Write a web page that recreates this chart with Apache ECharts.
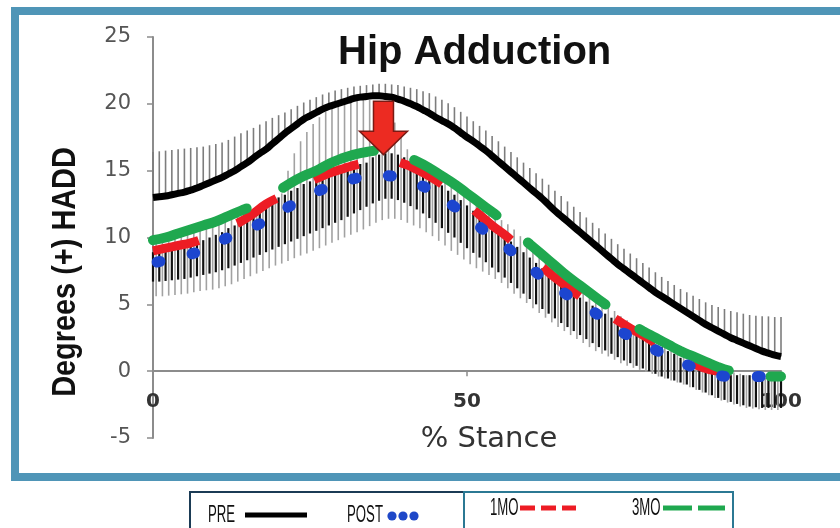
<!DOCTYPE html>
<html>
<head>
<meta charset="utf-8">
<script src="https://cdn.jsdelivr.net/npm/echarts@6/dist/echarts.min.js"></script>
<style>
html,body{margin:0;padding:0;background:#fff;}
#chart{width:840px;height:528px;}
</style>
</head>
<body>
<div id="chart"></div>
<script>
// ---- axis ticks ----
const xTicks = [0, 50, 100];
const yTicks = [-5, 0, 5, 10, 15, 20, 25];

// ---- PRE (1% steps, 0..100) ----
const preMean = [13.0,13.05,13.1,13.2,13.3,13.4,13.55,13.7,13.9,14.1,14.3,14.5,14.75,15.0,15.3,15.6,15.95,16.3,16.6,17.0,17.4,17.8,18.15,18.5,18.85,19.1,19.35,19.6,19.8,19.95,20.1,20.25,20.4,20.5,20.55,20.6,20.6,20.55,20.5,20.35,20.2,20.0,19.8,19.55,19.3,19.0,18.75,18.5,18.2,17.85,17.5,17.2,16.85,16.5,16.1,15.7,15.3,14.9,14.5,14.1,13.7,13.3,12.9,12.45,12.0,11.6,11.2,10.8,10.4,10.0,9.6,9.2,8.8,8.4,8.0,7.65,7.3,6.95,6.6,6.25,5.9,5.6,5.3,5.0,4.7,4.4,4.1,3.8,3.5,3.25,3.0,2.75,2.5,2.3,2.1,1.9,1.7,1.5,1.35,1.2,1.1];
const preHi = [16.4,16.45,16.5,16.55,16.6,16.65,16.7,16.75,16.8,16.9,17.0,17.1,17.3,17.55,17.8,18.0,18.2,18.45,18.7,18.95,19.15,19.35,19.6,19.85,20.1,20.3,20.5,20.7,20.85,21.0,21.1,21.2,21.3,21.35,21.4,21.45,21.5,21.5,21.45,21.4,21.3,21.2,21.1,20.95,20.8,20.55,20.3,20.05,19.75,19.4,19.05,18.7,18.35,18.0,17.6,17.2,16.8,16.4,16.0,15.6,15.2,14.8,14.4,13.95,13.5,13.1,12.7,12.3,11.9,11.5,11.1,10.7,10.3,9.9,9.5,9.15,8.8,8.45,8.1,7.75,7.4,7.05,6.75,6.45,6.15,5.9,5.65,5.4,5.15,4.95,4.8,4.65,4.5,4.4,4.3,4.2,4.15,4.1,4.1,4.05,4.05];

// ---- lower error bars (1% steps, 0..100) ----
const blackHi = [8.9,9.0,9.1,9.2,9.3,9.4,9.5,9.6,9.8,10.0,10.2,10.4,10.7,10.9,11.1,11.4,11.7,12.0,12.4,12.7,13.0,13.2,13.5,13.7,14.0,14.2,14.4,14.6,14.8,15.0,15.1,15.3,15.4,15.5,15.6,16.0,16.2,16.3,16.3,16.2,16.0,15.3,15.0,14.8,14.5,14.2,13.9,13.5,13.2,12.8,12.4,12.0,11.6,11.2,10.8,10.5,10.1,9.7,9.3,8.9,8.5,8.1,7.7,7.3,6.9,6.6,6.2,5.9,5.5,5.2,4.9,4.6,4.3,4.0,3.7,3.4,3.1,2.8,2.6,2.3,2.0,1.8,1.5,1.3,1.0,0.8,0.5,0.3,0.1,0.0,-0.1,-0.2,-0.3,-0.3,-0.3,-0.3,-0.3,-0.3,-0.3,-0.3,-0.3];
const blackLo = [6.7,6.7,6.75,6.8,6.85,6.9,7.0,7.1,7.2,7.3,7.4,7.55,7.7,7.9,8.1,8.3,8.5,8.7,8.9,9.1,9.3,9.5,9.7,9.9,10.1,10.3,10.5,10.7,10.9,11.1,11.3,11.55,11.8,12.05,12.3,12.55,12.75,12.9,12.9,12.8,12.6,12.35,12.1,11.8,11.45,11.1,10.7,10.35,10.0,9.6,9.2,8.85,8.5,8.15,7.75,7.4,7.0,6.6,6.2,5.8,5.4,5.0,4.65,4.3,3.95,3.6,3.3,3.0,2.7,2.4,2.1,1.8,1.55,1.3,1.05,0.8,0.6,0.4,0.2,0.0,-0.2,-0.4,-0.55,-0.7,-0.85,-1.0,-1.2,-1.4,-1.6,-1.8,-2.0,-2.15,-2.3,-2.45,-2.55,-2.65,-2.7,-2.75,-2.75,-2.75,-2.75];
const grayHi = [9.6,9.7,9.8,9.9,10.1,10.2,10.4,10.5,10.7,10.8,11.0,11.2,11.4,11.6,11.8,12.0,12.2,12.4,12.7,13.0,13.3,15.0,16.3,17.2,17.9,18.5,19.0,19.4,19.7,19.9,20.1,20.2,20.3,20.3,20.3,20.2,20.0,19.5,18.6,17.6,16.6,15.9,15.5,15.2,15.0,14.7,14.4,14.1,13.8,13.4,13.1,12.7,12.4,12.0,11.7,11.3,11.0,10.6,10.1,9.7,9.3,8.9,8.5,8.1,7.7,7.3,6.9,6.6,6.2,5.9,5.5,5.2,4.8,4.5,4.1,3.8,3.4,3.1,2.8,2.5,2.3,2.0,1.8,1.5,1.3,1.1,0.9,0.7,0.5,0.3,0.1,0.0,-0.1,-0.2,-0.3,-0.4,-0.5,-0.5,-0.5,-0.5,-0.5];
const grayLo = [5.6,5.6,5.65,5.7,5.75,5.8,5.9,6.0,6.05,6.1,6.2,6.35,6.5,6.7,6.9,7.1,7.3,7.5,7.7,7.9,8.05,8.25,8.45,8.65,8.8,9.0,9.2,9.4,9.6,9.8,10.0,10.2,10.4,10.6,10.85,11.1,11.3,11.4,11.4,11.3,11.1,10.9,10.7,10.4,10.1,9.75,9.4,9.0,8.7,8.35,8.0,7.7,7.45,7.2,6.9,6.6,6.2,5.8,5.45,5.1,4.7,4.35,4.0,3.65,3.3,3.0,2.7,2.4,2.1,1.8,1.5,1.3,1.1,0.85,0.6,0.4,0.25,0.1,-0.05,-0.2,-0.4,-0.55,-0.7,-0.85,-1.0,-1.2,-1.4,-1.6,-1.8,-2.0,-2.2,-2.35,-2.5,-2.65,-2.75,-2.8,-2.85,-2.9,-2.9,-2.9,-2.9];

// ---- POST / 1MO / 3MO means (2% steps from 0) ----
const postMean = [8.1,8.3,8.5,8.75,9.1,9.6,10.0,10.4,10.8,11.3,11.9,12.4,12.9,13.4,13.8,14.2,14.4,14.6,14.65,14.6,14.3,14.0,13.6,13.0,12.3,11.6,10.8,10.1,9.4,8.6,7.8,7.0,6.3,5.7,5.1,4.5,3.8,3.1,2.6,2.1,1.6,1.1,0.7,0.3,0.0,-0.3,-0.4,-0.4,-0.4,-0.4];
const mo1Mean = [9.0,9.2,9.4,9.6,9.9,10.3,10.8,11.2,11.8,12.5,13.0,13.5,14.0,14.4,14.8,15.1,15.4,15.6,15.7,15.7,15.5,15.1,14.6,14.0,13.3,12.5,11.7,10.9,10.2,9.4,8.6,7.8,7.0,6.3,5.6,5.0,4.4,3.8,3.2,2.7,2.1,1.6,1.1,0.6,0.2,0.0,-0.2];
const mo3Mean = [9.8,10.0,10.3,10.6,10.9,11.2,11.6,12.0,12.4,12.9,13.5,14.1,14.6,15.0,15.5,15.9,16.2,16.4,16.5,16.4,16.1,15.7,15.2,14.6,14.0,13.3,12.6,11.9,11.2,10.3,9.5,8.7,7.9,7.1,6.4,5.7,5.0,4.3,3.6,3.0,2.5,2.0,1.5,1.1,0.7,0.3,0.0,-0.2,-0.4,-0.4,-0.4];

// ---- arrow marker (data units) ----
const arrowX = 36.7, arrowTop = 20.2, arrowBase = 17.95, arrowTip = 16.2;

const stance1 = preMean.map((_, i) => i);
const pts = (arr, step) => arr.map((v, i) => [i * step, v]);

function barSeries(name, lo, hi, color, width, offset, z) {
  return {
    type: 'custom', name: name, z: z, silent: true,
    data: lo.map((v, i) => [stance1[i], v, hi[i]]),
    renderItem: function (params, api) {
      const x = api.value(0) + offset;
      if (x > 100) return null;
      const p1 = api.coord([x, api.value(1)]);
      const p2 = api.coord([x, api.value(2)]);
      return { type: 'line', shape: { x1: p1[0], y1: p1[1], x2: p2[0], y2: p2[1] },
               style: { stroke: color, lineWidth: width } };
    }
  };
}

const chart = echarts.init(document.getElementById('chart'), null, { renderer: 'canvas' });
const option = {
  backgroundColor: '#ffffff',
  animation: false,
  title: {
    text: 'Hip Adduction', left: 333, top: 28,
    textStyle: { fontFamily: 'Liberation Sans', fontWeight: 'bold', fontSize: 40, color: '#111' }
  },
  grid: { left: 153, right: 59, top: 37, bottom: 90, containLabel: false },
  xAxis: {
    type: 'value', min: 0, max: 100, interval: 50,
    axisLine: { onZero: true, lineStyle: { color: '#8c8c8c', width: 2 } },
    axisTick: { show: true, length: 5, lineStyle: { color: '#8c8c8c', width: 1.5 } },
    splitLine: { show: false },
    axisLabel: { margin: -46, fontFamily: 'DejaVu Sans', fontWeight: 'bold', fontSize: 20, color: '#333' },
    name: '% Stance', nameLocation: 'middle', nameGap: -13,
    nameTextStyle: { fontFamily: 'DejaVu Sans', fontSize: 29, color: '#333', padding: [0, 0, 0, 44] }
  },
  yAxis: {
    type: 'value', min: -5, max: 25, interval: 5,
    axisLine: { show: true, lineStyle: { color: '#8c8c8c', width: 2 } },
    axisTick: { show: true, length: 6, lineStyle: { color: '#8c8c8c', width: 1.5 } },
    splitLine: { show: false },
    axisLabel: { margin: 22, fontFamily: 'DejaVu Sans', fontSize: 21, color: '#555' }
  },
  series: [
    barSeries('preSD', preMean, preHi, '#7d7d7d', 1.6, 0, 1),
    barSeries('graySD', grayLo, grayHi, '#a2a2a2', 1.6, 0.5, 1),
    barSeries('postSD', blackLo, blackHi, '#111111', 2.2, 0, 1),
    { type: 'line', name: 'PRE', data: pts(preMean, 1), showSymbol: false, smooth: true, z: 3,
      lineStyle: { color: '#000', width: 7 } },
    { type: 'line', name: '1MO', data: pts(mo1Mean, 2), showSymbol: false, smooth: true, z: 4,
      lineStyle: { color: '#ed1c24', width: 9, type: [47, 42], cap: 'butt' } },
    { type: 'line', name: '3MO', data: pts(mo3Mean, 2), showSymbol: false, smooth: true, z: 5,
      lineStyle: { color: '#1fa84f', width: 10, type: [99, 42], cap: 'round' } },
    { type: 'line', name: 'POST', data: pts(postMean, 2), showSymbol: false, smooth: true, z: 6,
      lineStyle: { color: '#1c45cf', width: 11, type: [3, 32.7], dashOffset: 31.5, cap: 'round' } }
  ]
};
chart.setOption(option);

// arrow via the chart's own scales
const pTop = chart.convertToPixel({ gridIndex: 0 }, [arrowX, arrowTop]);
const pBase = chart.convertToPixel({ gridIndex: 0 }, [arrowX, arrowBase]);
const pTip = chart.convertToPixel({ gridIndex: 0 }, [arrowX, arrowTip]);
const cx = pTop[0], sw = 10, hw = 24;

chart.setOption({
  graphic: [
    { type: 'rect', shape: { x: 15, y: 11, width: 830, height: 466 }, z: 100,
      style: { fill: 'none', stroke: '#4f95b7', lineWidth: 8 } },
    { type: 'polygon', z: 50,
      shape: { points: [[cx - sw, pTop[1]], [cx + sw, pTop[1]], [cx + sw, pBase[1]], [cx + hw, pBase[1]],
                        [cx, pTip[1]], [cx - hw, pBase[1]], [cx - sw, pBase[1]]] },
      style: { fill: '#ec2b22', stroke: '#7a1a14', lineWidth: 1.5 } },
    { type: 'text', x: 66, y: 272, rotation: Math.PI / 2, scaleX: 0.85, z: 60,
      style: { text: 'Degrees (+) HADD', font: 'bold 34px "Liberation Sans"', fill: '#111',
               textAlign: 'center', textVerticalAlign: 'middle' } },
    // legend box
    { type: 'rect', shape: { x: 190, y: 492, width: 274, height: 50 }, z: 60,
      style: { fill: '#fff', stroke: '#1b3b55', lineWidth: 2 } },
    { type: 'rect', shape: { x: 464, y: 492, width: 269, height: 50 }, z: 60,
      style: { fill: '#fff', stroke: '#2b7893', lineWidth: 2 } },
    { type: 'text', x: 208, y: 515, scaleX: 0.55, z: 61,
      style: { text: 'PRE', font: '24px "Liberation Sans"', fill: '#111', textVerticalAlign: 'middle' } },
    { type: 'line', shape: { x1: 245, y1: 515, x2: 307, y2: 515 }, z: 61,
      style: { stroke: '#000', lineWidth: 5 } },
    { type: 'text', x: 347, y: 515, scaleX: 0.55, z: 61,
      style: { text: 'POST', font: '24px "Liberation Sans"', fill: '#111', textVerticalAlign: 'middle' } },
    { type: 'circle', shape: { cx: 392, cy: 516, r: 4.6 }, z: 61, style: { fill: '#1f48c8' } },
    { type: 'circle', shape: { cx: 403, cy: 516, r: 4.6 }, z: 61, style: { fill: '#1f48c8' } },
    { type: 'circle', shape: { cx: 414, cy: 516, r: 4.6 }, z: 61, style: { fill: '#1f48c8' } },
    { type: 'text', x: 490, y: 508, scaleX: 0.55, z: 61,
      style: { text: '1MO', font: '24px "Liberation Sans"', fill: '#111', textVerticalAlign: 'middle' } },
    { type: 'rect', shape: { x: 520, y: 505.5, width: 15, height: 5 }, z: 61, style: { fill: '#ed1c24' } },
    { type: 'rect', shape: { x: 541, y: 505.5, width: 15, height: 5 }, z: 61, style: { fill: '#ed1c24' } },
    { type: 'rect', shape: { x: 562, y: 505.5, width: 14, height: 5 }, z: 61, style: { fill: '#ed1c24' } },
    { type: 'text', x: 632, y: 508, scaleX: 0.55, z: 61,
      style: { text: '3MO', font: '24px "Liberation Sans"', fill: '#111', textVerticalAlign: 'middle' } },
    { type: 'rect', shape: { x: 663, y: 505.5, width: 29, height: 5 }, z: 61, style: { fill: '#1fa84f' } },
    { type: 'rect', shape: { x: 698, y: 505.5, width: 27, height: 5 }, z: 61, style: { fill: '#1fa84f' } }
  ]
});
</script>
</body>
</html>
